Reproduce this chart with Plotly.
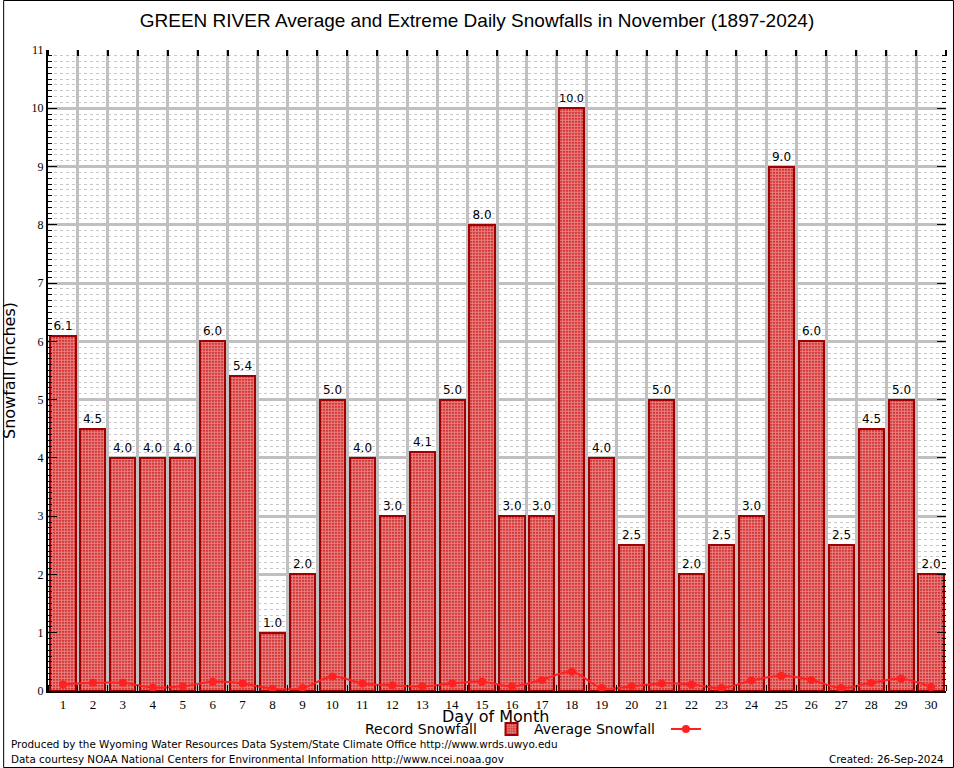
import plotly.graph_objects as go

days = list(range(1, 31))
record_snowfall = [6.1, 4.5, 4.0, 4.0, 4.0, 6.0, 5.4, 1.0, 2.0, 5.0,
                   4.0, 3.0, 4.1, 5.0, 8.0, 3.0, 3.0, 10.0, 4.0, 2.5,
                   5.0, 2.0, 2.5, 3.0, 9.0, 6.0, 2.5, 4.5, 5.0, 2.0]
average_snowfall = [0.11, 0.14, 0.14, 0.06, 0.08, 0.16, 0.13, 0.04, 0.05, 0.25,
                    0.13, 0.10, 0.08, 0.13, 0.16, 0.08, 0.19, 0.33, 0.05, 0.08,
                    0.13, 0.11, 0.05, 0.18, 0.26, 0.19, 0.05, 0.14, 0.21, 0.07]
y_ticks = list(range(0, 12))

W, H = 954, 768
ML, MR, MT, MB = 45, 8, 50, 77
PW, PH = W - ML - MR, H - MT - MB

def px(x):
    return (x - ML) / PW

def py(y):
    return (H - MB - y) / PH

fig = go.Figure()
fig.add_trace(go.Bar(
    x=days, y=record_snowfall, name="", legend="legend",
    width=0.84,
    marker=dict(color="#cc0000",
                line=dict(color="#a00000", width=2),
                pattern=dict(shape=".", fgcolor="white", bgcolor="#cc0000", size=3, solidity=0.75)),
    text=[f"{v:.1f}" for v in record_snowfall], textposition="outside",
    textfont=dict(family="DejaVu Sans", size=12, color="black"),
    cliponaxis=False,
))
fig.add_trace(go.Scatter(
    x=days, y=average_snowfall, name="", legend="legend2",
    mode="lines+markers", line=dict(color="#ff2020", width=2, shape="spline"),
    marker=dict(color="#ff2020", size=8),
))

fig.update_layout(
    width=W, height=H,
    margin=dict(l=ML, r=MR, t=MT, b=MB),
    paper_bgcolor="white", plot_bgcolor="white",
    bargap=0,
    title=dict(text="GREEN RIVER Average and Extreme Daily Snowfalls in November (1897-2024)",
               x=0.5, xanchor="center", y=1 - 20 / H, yanchor="middle",
               font=dict(family="Liberation Sans", size=19, color="black")),
    xaxis=dict(range=[0.5, 30.5], tickvals=days, ticktext=[str(d) for d in days],
               ticks="", showgrid=False, zeroline=False,
               showline=True, linecolor="black", linewidth=2,
               tickfont=dict(family="Liberation Serif", size=13, color="black"),
               minor=dict(tick0=0.5, dtick=1, showgrid=True, gridcolor="#c0c0c0", gridwidth=3,
                          ticks="inside", ticklen=6, tickcolor="black", tickwidth=1)),
    yaxis=dict(range=[0, 11], tickvals=y_ticks, ticks="inside", ticklen=9, tickcolor="black", tickwidth=1,
               showgrid=True, gridcolor="#c0c0c0", gridwidth=3, zeroline=False,
               showline=True, linecolor="black", linewidth=2,
               tickfont=dict(family="Liberation Serif", size=12, color="black"),
               minor=dict(dtick=0.1, showgrid=True, gridcolor="#c8c8c8", gridwidth=1, griddash="3px,3px",
                          ticks="inside", ticklen=4, tickcolor="black", tickwidth=1),
               title=dict(text="Snowfall (Inches)", standoff=12,
                          font=dict(family="DejaVu Sans", size=16, color="black"))),
    xaxis2=dict(overlaying="x", side="top", range=[0.5, 30.5], showticklabels=False,
                tickvals=[], ticks="", showgrid=False, zeroline=False, showline=False,
                minor=dict(tick0=0.5, dtick=1, ticks="inside", ticklen=6, tickcolor="black", tickwidth=2)),
    yaxis2=dict(overlaying="y", side="right", range=[0, 11], showticklabels=False,
                tickvals=y_ticks, ticks="inside", ticklen=9, tickcolor="black", showgrid=False,
                zeroline=False, showline=False,
                minor=dict(dtick=0.1, ticks="inside", ticklen=4, tickcolor="black", tickwidth=1)),
    legend=dict(orientation="h", x=px(490), y=py(729), xanchor="left", yanchor="middle",
                bgcolor="rgba(0,0,0,0)", font=dict(size=1), itemwidth=30),
    legend2=dict(orientation="h", x=px(665), y=py(729), xanchor="left", yanchor="middle",
                 bgcolor="rgba(0,0,0,0)", font=dict(size=1), itemwidth=30),
    showlegend=True,
)

# invisible helper trace to anchor secondary axes
fig.add_trace(go.Scatter(x=[1], y=[0], xaxis="x2", yaxis="y2", mode="markers",
                         marker=dict(opacity=0), showlegend=False, hoverinfo="skip"))

ann_font = dict(family="DejaVu Sans", size=10.4, color="black")
fig.add_annotation(text="Day of Month", xref="paper", yref="paper", x=px(494), y=py(716),
                   xanchor="center", yanchor="middle", showarrow=False,
                   font=dict(family="DejaVu Sans", size=16, color="black"))
fig.add_annotation(text="Record Snowfall", xref="paper", yref="paper", x=px(477), y=py(729),
                   xanchor="right", yanchor="middle", showarrow=False,
                   font=dict(family="DejaVu Sans", size=14, color="black"))
fig.add_annotation(text="Average Snowfall", xref="paper", yref="paper", x=px(656), y=py(729),
                   xanchor="right", yanchor="middle", showarrow=False,
                   font=dict(family="DejaVu Sans", size=14, color="black"))
fig.add_annotation(text="Produced by the Wyoming Water Resources Data System/State Climate Office http://www.wrds.uwyo.edu",
                   xref="paper", yref="paper", x=px(6), y=py(744), xanchor="left", yanchor="middle",
                   showarrow=False, font=ann_font)
fig.add_annotation(text="Data courtesy NOAA National Centers for Environmental Information http://www.ncei.noaa.gov",
                   xref="paper", yref="paper", x=px(6), y=py(759), xanchor="left", yanchor="middle",
                   showarrow=False, font=ann_font)
fig.add_annotation(text="Created: 26-Sep-2024",
                   xref="paper", yref="paper", x=px(946), y=py(759), xanchor="right", yanchor="middle",
                   showarrow=False, font=ann_font)

# outer image border
fig.add_shape(type="rect", xref="paper", yref="paper", x0=px(0.5), x1=px(W - 0.5), y0=py(H - 0.5), y1=py(0.5),
              line=dict(color="black", width=1), layer="above")

fig.write_html("out.html", config={"displayModeBar": False},
               post_script="document.body.style.margin='0';document.body.style.overflow='hidden';")
